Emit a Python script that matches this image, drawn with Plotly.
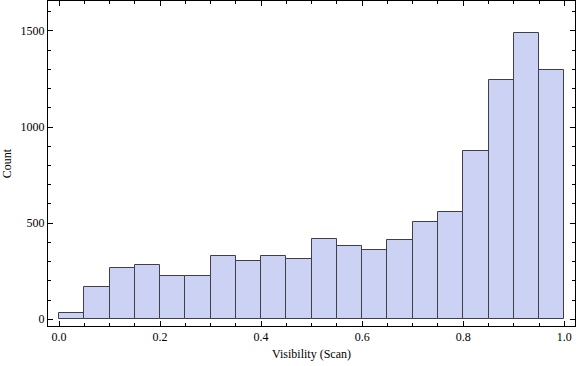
import plotly.graph_objects as go

bin_starts = [0.00, 0.05, 0.10, 0.15, 0.20, 0.25, 0.30, 0.35, 0.40, 0.45,
              0.50, 0.55, 0.60, 0.65, 0.70, 0.75, 0.80, 0.85, 0.90, 0.95]
counts = [31, 166, 265, 281, 224, 224, 328, 302, 328, 312,
          416, 380, 359, 411, 505, 557, 874, 1243, 1488, 1296]
bin_width = 0.05

x_ticks = [0.0, 0.2, 0.4, 0.6, 0.8, 1.0]
x_tick_text = ["0.0", "0.2", "0.4", "0.6", "0.8", "1.0"]
y_ticks = [0, 500, 1000, 1500]
y_tick_text = ["0", "500", "1000", "1500"]

FONT = "Liberation Serif, Times New Roman, serif"

fig = go.Figure(go.Bar(
    x=bin_starts, y=counts, width=bin_width, offset=0,
    marker=dict(color="rgb(204,210,244)", line=dict(color="#3f3f4a", width=1)),
    hoverinfo="x+y",
))

axis_common = dict(
    showline=True, linecolor="black", linewidth=1, mirror="allticks",
    ticks="inside", ticklen=5, tickwidth=1, tickcolor="black",
    showgrid=False, zeroline=False,
    tickfont=dict(family=FONT, size=12, color="black"),
)

fig.update_xaxes(
    range=[-0.0218, 1.0212], tickvals=x_ticks, ticktext=x_tick_text,
    minor=dict(ticks="inside", ticklen=3, tickwidth=1, tickcolor="black", dtick=0.05, tick0=0, showgrid=False),
    title=dict(text="Visibility (Scan)", font=dict(family=FONT, size=12, color="black"), standoff=6),
    **axis_common,
)
fig.update_yaxes(
    range=[-35, 1656], tickvals=y_ticks, ticktext=y_tick_text,
    minor=dict(ticks="inside", ticklen=3, tickwidth=1, tickcolor="black", dtick=100, tick0=0, showgrid=False),
    title=dict(text="Count", font=dict(family=FONT, size=12, color="black"), standoff=8),
    **axis_common,
)

fig.update_layout(
    width=576, height=366,
    margin=dict(l=48, r=1, t=1, b=40, autoexpand=False),
    plot_bgcolor="white", paper_bgcolor="white",
    showlegend=False, bargap=0,
)

fig.write_html("out.html", config={"displayModeBar": False},
               post_script="document.body.style.margin='0';document.body.style.overflow='hidden';")
